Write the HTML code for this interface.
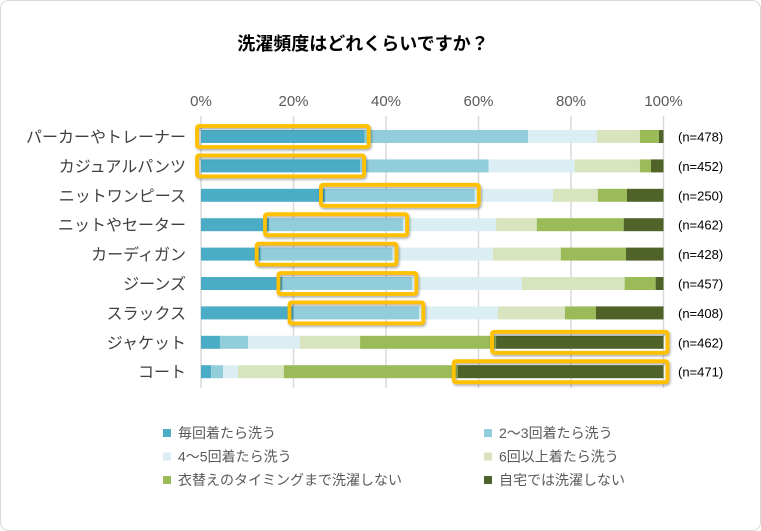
<!DOCTYPE html>
<html><head><meta charset="utf-8"><style>
body{margin:0;background:#fff;}
svg{display:block;font-family:"Liberation Sans","Noto Sans CJK JP",sans-serif;}
</style></head><body>
<svg id="chart" width="761" height="531" viewBox="0 0 761 531">
<defs>
<filter id="sh" x="-10%" y="-50%" width="120%" height="200%"><feDropShadow dx="1" dy="1.5" stdDeviation="1.2" flood-color="#000" flood-opacity="0.35"/></filter>
</defs>
<rect x="0.5" y="0.5" width="760" height="530" rx="8" fill="#fff" stroke="#d9d9d9"/>
<text x="363" y="50" text-anchor="middle" font-size="18" font-weight="bold" fill="#000">洗濯頻度はどれくらいですか？</text>
<g id="grid"></g><g id="bars"></g><g id="hl"></g><g id="labels"></g><g id="legend"></g>
</svg>
<script>
const categories=["パーカーやトレーナー","カジュアルパンツ","ニットワンピース","ニットやセーター","カーディガン","ジーンズ","スラックス","ジャケット","コート"];
const counts=["(n=478)","(n=452)","(n=250)","(n=462)","(n=428)","(n=457)","(n=408)","(n=462)","(n=471)"];
const seriesNames=["毎回着たら洗う","2～3回着たら洗う","4～5回着たら洗う","6回以上着たら洗う","衣替えのタイミングまで洗濯しない","自宅では洗濯しない"];
const s1=[35.4,34.4,26.8,14.7,12.9,17.6,20.0,4.1,2.2];
const s2=[35.3,27.8,32.4,29.0,28.5,28.1,27.2,6.1,2.6];
const s3=[14.9,18.6,16.9,20.1,21.7,23.7,17.0,11.2,3.2];
const s4=[9.3,14.1,9.7,8.8,14.7,22.2,14.5,13.0,9.9];
const s5=[4.1,2.4,6.3,18.8,14.1,6.7,6.7,29.4,37.6];
const s6=[1.0,2.7,7.9,8.6,8.1,1.7,14.6,36.2,44.5];
const highlighted=[0,0,1,1,1,1,1,5,5];
const ticks=[0,20,40,60,80,100];
const series=[s1,s2,s3,s4,s5,s6];
const colors=["#4BACC6","#92CDDC","#DAEEF3","#D7E4BD","#9BBB59","#4F6228"];
const NS="http://www.w3.org/2000/svg";
const X0=201,X1=663.5,Y0=121.8,BAND=29.4,BH=13;
const xs=v=>X0+(X1-X0)*v/100;
const yc=i=>Y0+BAND*(i+0.5);
function mk(t,a,p){const e=document.createElementNS(NS,t);for(const k in a)e.setAttribute(k,a[k]);p.appendChild(e);return e;}
const grid=document.getElementById('grid'),bars=document.getElementById('bars'),hl=document.getElementById('hl'),labels=document.getElementById('labels'),legend=document.getElementById('legend');
ticks.forEach(t=>{
  const l=mk('line',{x1:xs(t),x2:xs(t),y1:116,y2:388,stroke:'#d9d9d9','stroke-width':1.5},grid);
  
  
  const tx=mk('text',{x:xs(t),y:106,'text-anchor':'middle','font-size':15,fill:'#595959'},labels);
  tx.textContent=t+'%';
  
  
});
categories.forEach((c,i)=>{
  let acc=0;
  const tot=series.reduce((s,a)=>s+a[i],0);
  series.forEach((arr,j)=>{
    const v=arr[i]/tot*100;
    const r=mk('rect',{x:xs(acc),y:yc(i)-BH/2,width:xs(acc+v)-xs(acc),height:BH,fill:colors[j]},bars);
    
    
    if(highlighted[i]===j){
      const h=mk('rect',{x:xs(acc)-4,y:yc(i)-BH/2-4,width:xs(acc+v)-xs(acc)+8,height:BH+8,rx:2,fill:'none',stroke:'#FFC000','stroke-width':3.8,filter:'url(#sh)'},hl);
      
      
    }
    acc+=v;
  });
  const t=mk('text',{x:186,y:yc(i)+6,'text-anchor':'end','font-size':16,fill:'#404040'},labels);
  t.textContent=c;
  
  
  const n=mk('text',{x:678,y:yc(i)+5,'font-size':13,fill:'#000'},labels);
  n.textContent=counts[i];
  
  
});
seriesNames.forEach((s,j)=>{
  const col=j%2,row=Math.floor(j/2);
  const x=col?484:163,y=433+row*23.5;
  const r=mk('rect',{x:x,y:y-4,width:8,height:8,fill:colors[j]},legend);
  
  
  const t=mk('text',{x:x+15,y:y+5,'font-size':14,fill:'#595959'},legend);
  t.textContent=s;
  
  
});
</script>
</body></html>
